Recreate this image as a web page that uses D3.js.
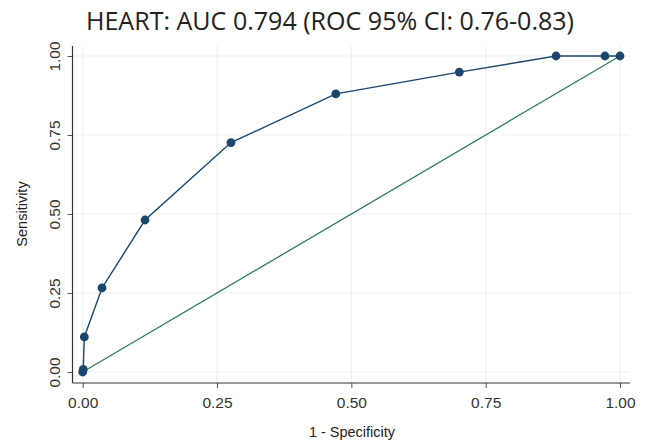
<!DOCTYPE html>
<html>
<head>
<meta charset="utf-8">
<script src="https://cdn.jsdelivr.net/npm/d3@7"></script>
<style>
  body { margin: 0; background: #fff; }
  svg { display: block; }
</style>
</head>
<body>
<div id="chart"></div>
<script>
// ROC curve points (1 - specificity, sensitivity)
const fpr  = [0, 0.001, 0.003, 0.036, 0.116, 0.276, 0.471, 0.701, 0.881, 0.972, 1];
const sens = [0, 0.008, 0.111, 0.266, 0.481, 0.726, 0.880, 0.949, 1.0, 1.0, 1];
const refLine = [0, 1];
const tickVals = [0, 0.25, 0.5, 0.75, 1];
const titleText = "HEART: AUC 0.794 (ROC 95% CI: 0.76-0.83)";

const width = 647, height = 444;
const plot = { left: 72.5, right: 630, top: 46, bottom: 383 };

const svg = d3.select("#chart").append("svg")
  .attr("width", width)
  .attr("height", height);

const x = d3.scaleLinear().domain([0, 1]).range([82.7, 620]);
const y = d3.scaleLinear().domain([0, 1]).range([372, 56]);

// grid
const grid = svg.append("g").attr("stroke", "#eaf2f3").attr("stroke-width", 1.2);
grid.selectAll("line.gx").data(tickVals).enter().append("line")
  .attr("x1", d => x(d)).attr("x2", d => x(d))
  .attr("y1", plot.top).attr("y2", plot.bottom);
grid.selectAll("line.gy").data(tickVals).enter().append("line")
  .attr("y1", d => y(d)).attr("y2", d => y(d))
  .attr("x1", plot.left).attr("x2", plot.right);

// axes
const xAxis = d3.axisBottom(x).tickValues(tickVals).tickFormat(d3.format(".2f"))
  .tickSize(5).tickPadding(4);
const gx = svg.append("g").attr("transform", `translate(0,${plot.bottom})`).call(xAxis);
gx.select(".domain").remove();
gx.append("line").attr("x1", plot.left).attr("x2", plot.right)
  .attr("stroke", "#333").attr("stroke-width", 1.2);

const yAxis = d3.axisLeft(y).tickValues(tickVals).tickFormat(d3.format(".2f"))
  .tickSize(5).tickPadding(4);
const gy = svg.append("g").attr("transform", `translate(${plot.left},0)`).call(yAxis);
gy.select(".domain").remove();
gy.append("line").attr("y1", plot.top).attr("y2", plot.bottom)
  .attr("stroke", "#333").attr("stroke-width", 1.2);

[gx, gy].forEach(g => {
  g.selectAll(".tick line").attr("stroke", "#555");
  g.selectAll(".tick text")
    .attr("font-family", "Liberation Sans, Arial, sans-serif")
    .attr("font-size", 15.5)
    .attr("fill", "#333");
});
gx.selectAll(".tick text").attr("dy", "1em");
// y labels rotated, sitting left of the ticks
gy.selectAll(".tick text")
  .attr("text-anchor", "middle")
  .attr("transform", "rotate(-90)")
  .attr("x", 0)
  .attr("y", -12.5)
  .attr("dy", 0);

// reference diagonal
svg.append("line")
  .attr("x1", x(refLine[0])).attr("y1", y(refLine[0]))
  .attr("x2", x(refLine[1])).attr("y2", y(refLine[1]))
  .attr("stroke", "#2e7a6a").attr("stroke-width", 1.3);

// ROC curve
const pts = fpr.map((d, i) => ({ fx: d, se: sens[i] }));
svg.append("path").datum(pts)
  .attr("fill", "none")
  .attr("stroke", "#1a476f")
  .attr("stroke-width", 1.4)
  .attr("d", d3.line().x(d => x(d.fx)).y(d => y(d.se)));
svg.selectAll("circle.pt").data(pts).enter().append("circle")
  .attr("cx", d => x(d.fx)).attr("cy", d => y(d.se))
  .attr("r", 4.4)
  .attr("fill", "#1a476f");

// titles
svg.append("text")
  .attr("x", 86).attr("y", 29.5)
  .attr("font-family", "Open Sans, sans-serif")
  .attr("font-size", 26)
  .attr("textLength", 488)
  .attr("lengthAdjust", "spacingAndGlyphs")
  .attr("fill", "#222")
  .text(titleText);

svg.append("text")
  .attr("x", 352).attr("y", 437)
  .attr("text-anchor", "middle")
  .attr("font-family", "Liberation Sans, Arial, sans-serif")
  .attr("font-size", 14.5)
  .attr("fill", "#222")
  .text("1 - Specificity");

svg.append("text")
  .attr("transform", "translate(27,214) rotate(-90)")
  .attr("text-anchor", "middle")
  .attr("font-family", "Liberation Sans, Arial, sans-serif")
  .attr("font-size", 14.5)
  .attr("fill", "#222")
  .text("Sensitivity");
</script>
</body>
</html>
